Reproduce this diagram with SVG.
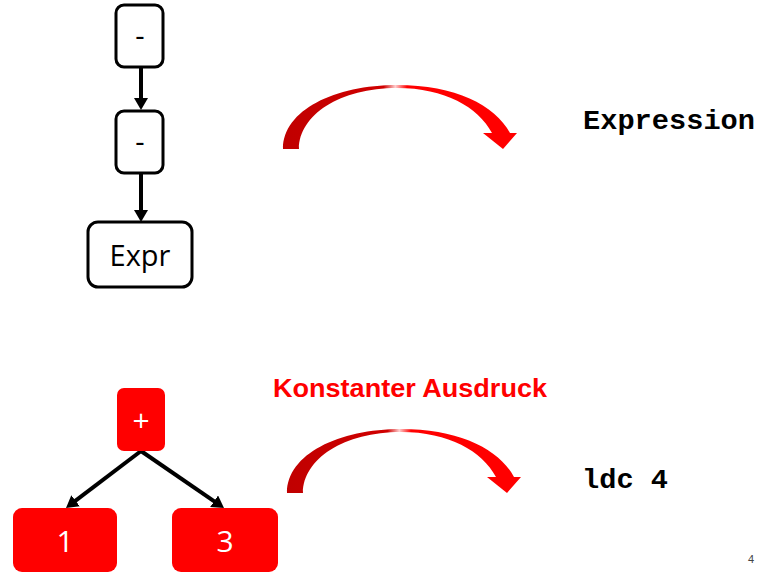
<svg xmlns="http://www.w3.org/2000/svg" width="759" height="574" viewBox="0 0 759 574">
<style>
.wnode{fill:#fff;stroke:#000;stroke-width:3}
.rnode{fill:#ff0000;stroke:none}
.lbl{font-family:"Open Sans","Liberation Sans",sans-serif;font-size:29px;fill:#000;text-anchor:middle}
.wlbl{font-family:"Open Sans","Liberation Sans",sans-serif;font-size:30px;fill:#fff;text-anchor:middle}
.conn{stroke:#000;stroke-width:4;fill:none}
.code{font-family:"Liberation Mono",monospace;font-weight:bold;font-size:28px;fill:#000}
</style>
<defs>
<marker id="ah" markerUnits="userSpaceOnUse" markerWidth="12" markerHeight="14" viewBox="0 0 12 14" refX="2" refY="7" orient="auto">
<path d="M0,0 L12,7 L0,14 Z" fill="#000"/>
</marker>
<linearGradient id="rg" x1="0" y1="0" x2="1" y2="0">
<stop offset="0" stop-color="#c00000"/>
<stop offset="0.43" stop-color="#d00000"/>
<stop offset="0.48" stop-color="#ffd0d0"/>
<stop offset="0.53" stop-color="#ff0000"/>
<stop offset="1" stop-color="#ff0000"/>
</linearGradient>
<path id="curve" d="M283,149 C283,110 335,85 397,85 C455,85 495,105 510,133 L517,133 L503,149 L483,133 L492,133 C478,107 445,88 397,88 C340,88 299,115 299,149 Z"/>
</defs>
<g id="connectors">
<line class="conn" x1="141" y1="67" x2="141" y2="100" marker-end="url(#ah)"/>
<line class="conn" x1="141" y1="173" x2="141" y2="212" marker-end="url(#ah)"/>
<line class="conn" x1="141" y1="451" x2="73.96" y2="501.95" marker-end="url(#ah)"/>
<line class="conn" x1="141" y1="451" x2="215.76" y2="502.34" marker-end="url(#ah)"/>
</g>
<g id="node-minus1">
<rect class="wnode" x="116" y="5" width="47" height="62" rx="8"/>
<text class="lbl" x="140" y="46">-</text>
</g>
<g id="node-minus2">
<rect class="wnode" x="116" y="111" width="47" height="62" rx="8"/>
<text class="lbl" x="140" y="152">-</text>
</g>
<g id="node-expr">
<rect class="wnode" x="88" y="222" width="104" height="65" rx="10"/>
<text class="lbl" x="140" y="266">Expr</text>
</g>
<g id="node-plus">
<rect class="rnode" x="117" y="388" width="48" height="63" rx="7"/>
<text class="wlbl" x="141" y="431">+</text>
</g>
<g id="node-1">
<rect class="rnode" x="13" y="508" width="104" height="64" rx="9"/>
<text class="wlbl" x="65" y="552">1</text>
</g>
<g id="node-3">
<rect class="rnode" x="172" y="508" width="106" height="64" rx="9"/>
<text class="wlbl" x="225" y="552">3</text>
</g>
<g id="arrow-top">
<use href="#curve" fill="url(#rg)"/>
</g>
<g id="arrow-bottom" transform="translate(4,344)">
<use href="#curve" fill="url(#rg)"/>
</g>
<text class="code" x="583" y="129" textLength="172" lengthAdjust="spacingAndGlyphs">Expression</text>
<text class="code" x="582" y="488" textLength="86" lengthAdjust="spacingAndGlyphs">ldc 4</text>
<text x="273" y="397" font-family="'Liberation Sans',sans-serif" font-weight="bold" font-size="26" fill="#ff0000" textLength="274" lengthAdjust="spacingAndGlyphs">Konstanter Ausdruck</text>
<text x="748" y="563" font-family="'Liberation Sans',sans-serif" font-size="11" fill="#444">4</text>
</svg>
